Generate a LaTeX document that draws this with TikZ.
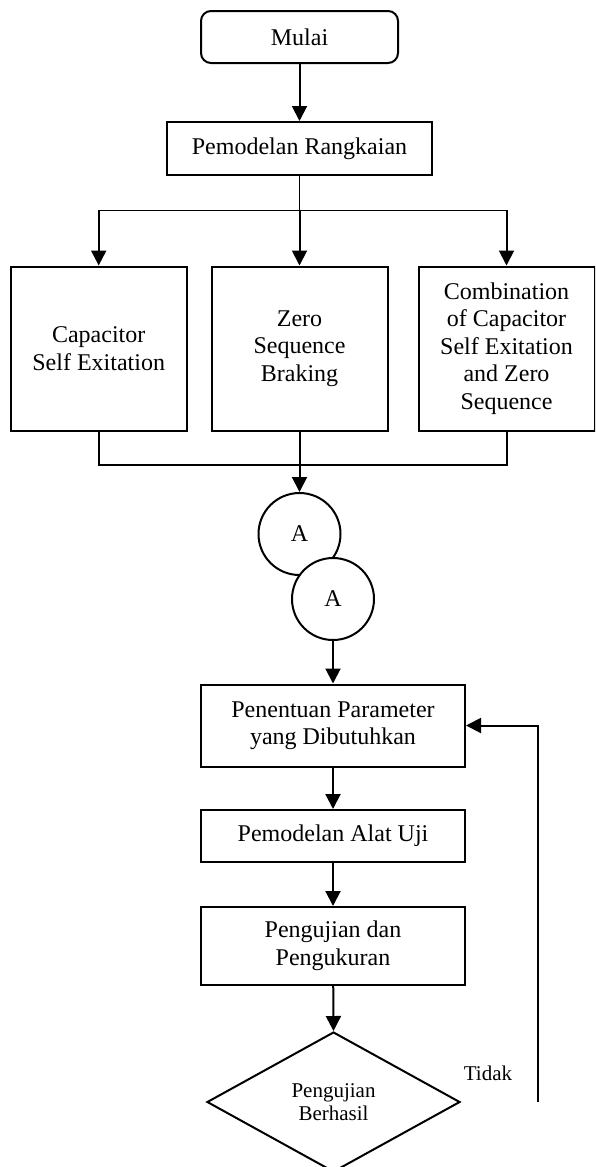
\documentclass[tikz,border=0pt]{standalone}
\usepackage{fontspec}
\setmainfont{Liberation Serif}
\usetikzlibrary{arrows.meta,shapes.geometric}
\tikzset{
  every node/.style={font=\fontsize{12}{13.75}\selectfont},
  box/.style={draw,line width=1pt,align=center,inner sep=0pt,minimum width=132pt},
  colbox/.style={draw,line width=1pt,align=center,inner sep=0pt,minimum width=88pt,minimum height=82pt},
  conn/.style={circle,draw,line width=1pt,fill=white,minimum size=41pt,inner sep=0pt},
  arr/.style={line width=1pt,-{Triangle[length=7.5pt,width=7.5pt]}},
  ln/.style={line width=1pt},
  thinln/.style={line width=0.5pt},
  smalltext/.style={font=\fontsize{10.5}{11.7}\selectfont}
}
\begin{document}
\begin{tikzpicture}[x=0.5pt,y=-0.5pt]
\useasboundingbox (0,0) rectangle (595,1167);
\clip (0,0) rectangle (595,1167);
% nodes
\node[draw,line width=1pt,rounded corners=5pt,minimum width=98.5pt,minimum height=26pt,inner sep=0pt] (start) at (299.5,37) {Mulai};
\node[box,minimum width=132.5pt,minimum height=26.5pt] (model) at (299.5,148.5) {Pemodelan Rangkaian};
\node[colbox] (cap) at (98.7,348.5) {Capacitor\\Self Exitation};
\node[colbox] (zero) at (299.5,348.5) {Zero\\Sequence\\Braking};
\node[colbox] (comb) at (506.5,348.5) {Combination\\of Capacitor\\Self Exitation\\and Zero\\Sequence};
\node[conn] (A1) at (299.5,534) {A};
\node[conn] (A2) at (333,599) {A};
\node[box,minimum height=41pt] (param) at (333,725.5) {Penentuan Parameter\\yang Dibutuhkan};
\node[box,minimum height=26pt] (alat) at (333,836) {Pemodelan Alat Uji};
\node[box,minimum height=39pt] (uji) at (333,946) {Pengujian dan\\Pengukuran};
\node[diamond,draw,line width=1pt,aspect=1.8,minimum width=126.5pt,minimum height=70pt,inner sep=0pt,smalltext,align=center] (dec) at (333.5,1102) {Pengujian\\Berhasil};
\node[smalltext] (tidak) at (488,1073) {Tidak};
% coordinates
\coordinate (split) at (299.5,210);
\coordinate (join) at (299.5,465);
\coordinate (fb) at (538,1102);
% connectors
\draw[arr] (start) -- (model);
\draw[thinln] (model.south) -- (split);
\draw[thinln] (cap.north |- split) -- (comb.north |- split);
\draw[arr] (cap.north |- split) -- (cap.north);
\draw[arr] (split) -- (zero.north);
\draw[arr] (comb.north |- split) -- (comb.north);
\draw[ln] (cap.south) -- (cap.south |- join) -- (comb.south |- join) -- (comb.south);
\draw[arr] (zero.south) -- (A1.north);
\draw[arr] (A2.south) -- (param.north);
\draw[arr] (param) -- (alat);
\draw[arr] (alat) -- (uji);
\draw[arr] (uji) -- (dec.north);
\draw[arr] (fb) |- (param.east);
\end{tikzpicture}
\end{document}
